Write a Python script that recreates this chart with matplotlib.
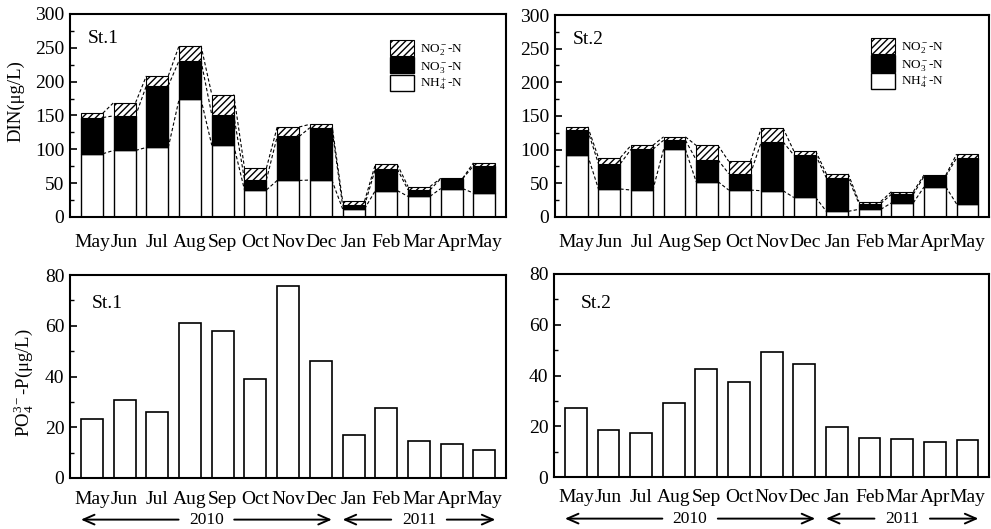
import numpy as np
import matplotlib
matplotlib.use("Agg")
import matplotlib.pyplot as plt
from matplotlib.patches import Patch
from matplotlib.ticker import MultipleLocator

plt.rcParams["font.family"] = ["Liberation Serif", "DejaVu Serif"]
plt.rcParams["mathtext.fontset"] = "custom"
plt.rcParams["mathtext.rm"] = "Liberation Serif"
plt.rcParams["mathtext.it"] = "Liberation Serif:italic"

# --- data ---
months = ["May", "Jun", "Jul", "Aug", "Sep", "Oct", "Nov", "Dec",
          "Jan", "Feb", "Mar", "Apr", "May"]

# St.1 DIN components (ug/L)
nh4_st1 = [93.5, 98.4, 102.8, 174, 106, 40, 54, 54.6, 12, 39, 30.5, 42, 35.4]
no3_st1 = [53.5, 51.1, 91.2, 57, 45, 15, 65, 77.4, 5, 32, 9.5, 14.6, 40.3]
no2_st1 = [6.5, 19.5, 14.5, 22, 30, 17.3, 14, 5, 6.6, 6.7, 5, 0.6, 4.3]

# St.2 DIN components (ug/L)
nh4_st2 = [91.6, 41.6, 40, 100.5, 52.5, 40, 39, 29, 8.4, 11.4, 21, 44.6, 19.3]
no3_st2 = [37.1, 37.4, 60.5, 13.5, 32.5, 24.4, 72.4, 63, 49.6, 8.6, 12.7, 15.8, 68.5]
no2_st2 = [5.3, 9, 5.9, 5, 21.4, 18.3, 20.6, 6, 6, 3, 3.9, 2, 5.6]

# PO4-P (ug/L)
po4_st1 = [23.2, 30.7, 26, 61, 58.1, 39, 75.7, 46.3, 16.9, 27.5, 14.4, 13.4, 11]
po4_st2 = [27.2, 18.7, 17.5, 29.3, 42.4, 37.5, 49.1, 44.6, 19.9, 15.5, 15.1, 13.6, 14.4]

years = ["2010", "2011"]
year_spans = [(0, 7), (8, 12)]

W, H = 991, 529
fig = plt.figure(figsize=(W / 100, H / 100), dpi=100)

def px_axes(left, top, right, bottom):
    return fig.add_axes([left / W, 1 - bottom / H, (right - left) / W, (bottom - top) / H])

ax_tl = px_axes(70, 14, 506, 217)
ax_tr = px_axes(555, 15, 989, 217)
ax_bl = px_axes(70, 275, 506, 478)
ax_br = px_axes(554, 274, 989, 477)

x = np.arange(len(months))
bw = 0.67


def style_axes(ax, ymax, major, minor, xpad):
    ax.set_xlim(-0.67, 12.66)
    ax.set_ylim(0, ymax)
    ax.yaxis.set_major_locator(MultipleLocator(major))
    ax.yaxis.set_minor_locator(MultipleLocator(minor))
    ax.tick_params(axis="y", which="major", direction="in", length=5, width=1.2,
                   labelsize=14, pad=4)
    ax.tick_params(axis="y", which="minor", direction="in", length=3, width=1)
    ax.tick_params(axis="x", length=0, labelsize=14, pad=xpad)
    ax.set_xticks(x)
    ax.set_xticklabels(months)
    for s in ax.spines.values():
        s.set_linewidth(1.5)


def din_panel(ax, nh4, no3, no2, name, leg_xy):
    nh4 = np.array(nh4)
    no3 = np.array(no3)
    no2 = np.array(no2)
    lvl1 = nh4
    lvl2 = nh4 + no3
    lvl3 = nh4 + no3 + no2
    ax.bar(x, nh4, bw, color="white", edgecolor="black", lw=1, zorder=2)
    ax.bar(x, no3, bw, bottom=lvl1, color="black", edgecolor="black", lw=1, zorder=2)
    ax.bar(x, no2, bw, bottom=lvl2, color="white", edgecolor="black", lw=0.8,
           hatch="/////", zorder=2)
    # dashed connectors between neighbouring bar tops
    for lv in (lvl1, lvl2, lvl3):
        for i in range(len(x) - 1):
            ax.plot([x[i] + bw / 2, x[i + 1] - bw / 2], [lv[i], lv[i + 1]],
                    ls=(0, (3, 2)), color="black", lw=0.8, zorder=1)
    style_axes(ax, 300, 50, 25, 12.5)
    ax.text(0.04, 0.88, name, transform=ax.transAxes, fontsize=14, va="center")
    handles = [Patch(facecolor="white", edgecolor="black", hatch="/////", lw=0.8),
               Patch(facecolor="black", edgecolor="black"),
               Patch(facecolor="white", edgecolor="black", lw=1)]
    labels = [r"NO$\mathregular{_2^-}$-N", r"NO$\mathregular{_3^-}$-N",
              r"NH$\mathregular{_4^+}$-N"]
    ax.legend(handles, labels, loc="upper left", bbox_to_anchor=leg_xy,
              frameon=False, fontsize=9.5, handlelength=1.8, handleheight=1.5,
              labelspacing=0, handletextpad=0.5, borderpad=0, borderaxespad=0)


def po4_panel(ax, vals, name, text_xy):
    ax.bar(x, vals, bw, color="white", edgecolor="black", lw=1.2, zorder=2)
    style_axes(ax, 80, 20, 10, 9)
    ax.text(text_xy[0], text_xy[1], name, transform=ax.transAxes, fontsize=14,
            va="center")
    yy = -0.205
    gap = 0.85
    for yr, (a, b) in zip(years, year_spans):
        c = (a + b) / 2
        for start, end in ((c - gap, a - bw / 2), (c + gap, b + bw / 2)):
            ax.annotate("", xy=(end, yy), xytext=(start, yy),
                        xycoords=("data", "axes fraction"),
                        textcoords=("data", "axes fraction"),
                        arrowprops=dict(arrowstyle="->,head_length=0.8,head_width=0.35",
                                        lw=1.4, color="black", shrinkA=0, shrinkB=0),
                        annotation_clip=False)
        ax.text(c, yy, yr, transform=ax.get_xaxis_transform(),
                ha="center", va="center", fontsize=12.5)


din_panel(ax_tl, nh4_st1, no3_st1, no2_st1, "St.1", (0.734, 0.872))
din_panel(ax_tr, nh4_st2, no3_st2, no2_st2, "St.2", (0.728, 0.886))
po4_panel(ax_bl, po4_st1, "St.1", (0.05, 0.862))
po4_panel(ax_br, po4_st2, "St.2", (0.062, 0.857))

ax_tl.set_ylabel("DIN(μg/L)", fontsize=13.5)
ax_tl.yaxis.set_label_coords(-0.105, 0.57)
ax_bl.set_ylabel(r"PO$\mathregular{_4^{3-}}$-P(μg/L)", fontsize=13.5)
ax_bl.yaxis.set_label_coords(-0.078, 0.47)

fig.savefig("out.png", dpi=100)
